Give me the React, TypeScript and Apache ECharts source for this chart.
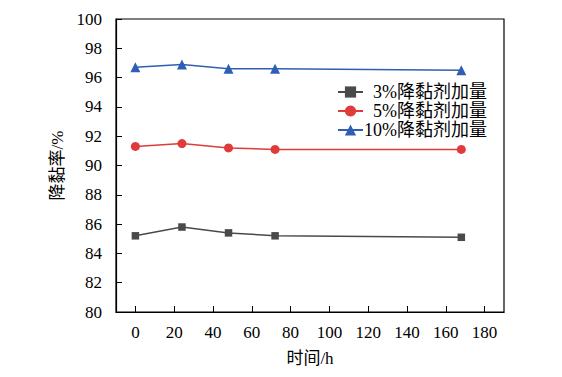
import React, { useEffect, useRef } from "react";
import * as echarts from "echarts";

const times = [0, 24, 48, 72, 168];
const xTicks = [0, 20, 40, 60, 80, 100, 120, 140, 160, 180];
const series3 = [85.2, 85.8, 85.4, 85.2, 85.1];
const series5 = [91.3, 91.5, 91.2, 91.1, 91.1];
const series10 = [96.7, 96.9, 96.6, 96.6, 96.5];
const names = ["3%降黏剂加量", "5%降黏剂加量", "10%降黏剂加量"];
const colors = ["#4a4a4a", "#e03a3a", "#2e5fb5"];
const symbols = ["rect", "circle", "triangle"];
const symbolSizes = [7.5, 9, 10];

const FONT = "'Liberation Serif', 'Times New Roman', 'Noto Sans CJK SC', serif";

export default function App() {
  const ref = useRef<HTMLDivElement>(null);
  useEffect(() => {
    document.body.style.margin = "0";
    if (!ref.current) return;
    const chart = echarts.init(ref.current, undefined, { renderer: "svg" });
    const data = [series3, series5, series10];
    chart.setOption({
      animation: false,
      backgroundColor: "#ffffff",
      textStyle: { fontFamily: FONT },
      grid: { left: 116, right: 58, top: 19, bottom: 65, show: true, borderColor: "#000", borderWidth: 1.2 },
      legend: {
        data: names,
        orient: "vertical",
        right: 70,
        top: 78,
        itemWidth: 25,
        itemHeight: 14,
        itemGap: 1,
        formatter: (n: string) => `{a|${n}}`,
        textStyle: {
          fontFamily: FONT,
          fontSize: 18,
          color: "#000",
          rich: { a: { width: 119, lineHeight: 18, align: "right", fontSize: 18, fontFamily: FONT, color: "#000" } },
        },
      },
      xAxis: {
        type: "value",
        min: -10,
        max: 190,
        name: "时间/h",
        nameLocation: "middle",
        nameGap: 38,
        nameTextStyle: { fontFamily: FONT, fontSize: 17, color: "#000" },
        splitLine: { show: false },
        axisLine: { onZero: false, lineStyle: { color: "#000", width: 1.2 } },
        axisTick: { inside: true, length: 6, customValues: xTicks, lineStyle: { color: "#000" } },
        axisLabel: { customValues: xTicks, margin: 12, fontFamily: FONT, fontSize: 17, color: "#000" },
      },
      yAxis: {
        type: "value",
        min: 80,
        max: 100,
        interval: 2,
        name: "降黏率/%",
        nameLocation: "middle",
        nameGap: 50,
        nameTextStyle: { fontFamily: FONT, fontSize: 17, color: "#000" },
        splitLine: { show: false },
        axisLine: { onZero: false, lineStyle: { color: "#000", width: 1.2 } },
        axisTick: { inside: true, length: 6, lineStyle: { color: "#000" } },
        axisLabel: { margin: 14, fontFamily: FONT, fontSize: 17, color: "#000" },
      },
      series: names.map((n, i) => ({
        name: n,
        type: "line",
        data: times.map((t, j) => [t, data[i][j]]),
        symbol: symbols[i],
        symbolSize: symbolSizes[i],
        itemStyle: { color: colors[i] },
        lineStyle: { color: colors[i], width: 1.5 },
      })),
    });
    return () => chart.dispose();
  }, []);
  return <div ref={ref} style={{ width: 562, height: 377 }} />;
}
